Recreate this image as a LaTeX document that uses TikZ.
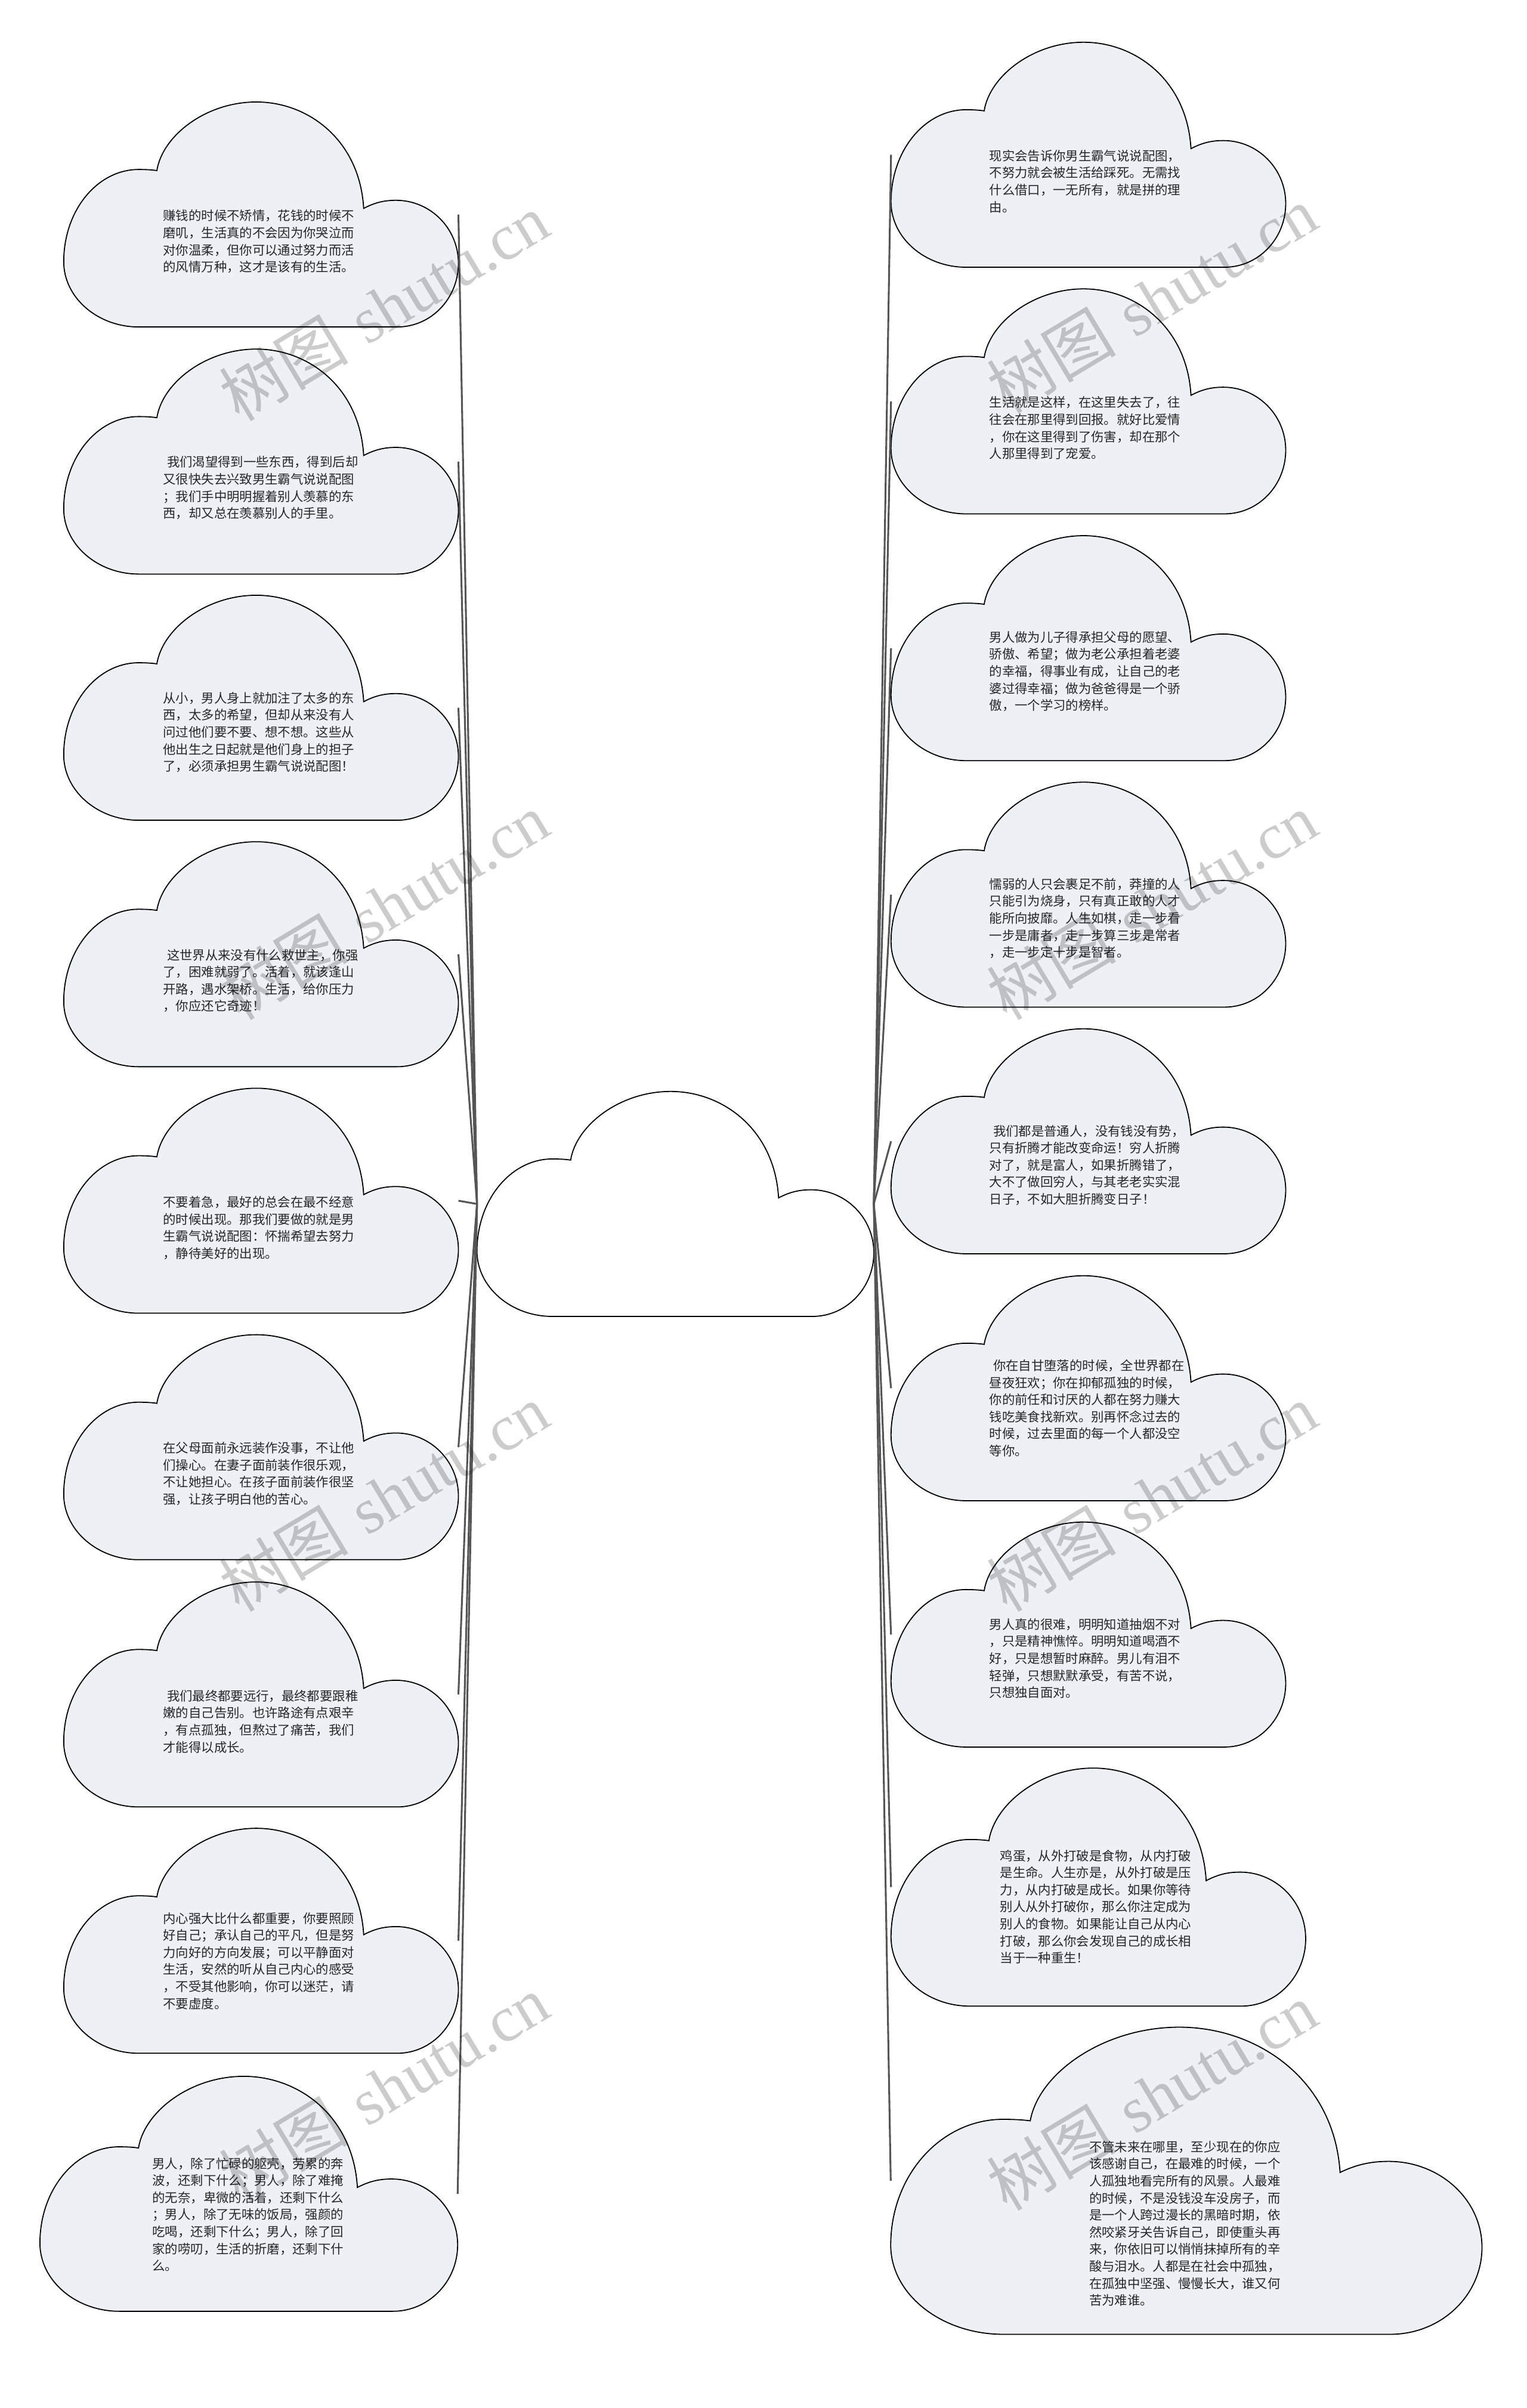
\documentclass[tikz,border=0pt]{standalone}
\usepackage{fontspec}
\newfontfamily\cjkfont{Noto Sans CJK SC}
\newfontfamily\markfont{Liberation Serif}
\definecolor{notefill}{RGB}{237,241,245}
\definecolor{linkgray}{RGB}{85,85,85}

\begin{document}
\begin{tikzpicture}[x=0.25mm,y=-0.25mm]
\tikzset{
  cloudshape/.pic={
    \path[pic actions] (0.19,1)
      .. controls (0.086,1) and (0,0.87) .. (0,0.71)
      .. controls (0,0.48) and (0.086,0.30) .. (0.19,0.30)
      .. controls (0.21,0.30) and (0.225,0.302) .. (0.236,0.305)
      .. controls (0.25,0.15) and (0.36,0) .. (0.488,0)
      .. controls (0.62,0) and (0.75,0.17) .. (0.760,0.473)
      .. controls (0.79,0.445) and (0.815,0.437) .. (0.842,0.437)
      .. controls (0.929,0.437) and (1,0.562) .. (1,0.717)
      .. controls (1,0.873) and (0.931,1) .. (0.845,1)
      -- cycle;
    \coordinate (-w) at (0,0.5);
    \coordinate (-e) at (1,0.5);
  },
  notecloud/.style={draw=black,line width=0.5pt,fill=notefill},
  rootcloud/.style={draw=black,line width=0.5pt,fill=white},
  notetext/.style={anchor=west,inner sep=0pt,align=left,text=black!85,
    font=\cjkfont\fontsize{5.9pt}{7.9pt}\selectfont},
  link/.style={draw=linkgray,line width=0.85pt},
  watermark/.style={rotate=31,inner sep=0pt,text=black,opacity=0.2,
    font=\fontsize{30pt}{30pt}\selectfont}
}
\fill[white] (0,0) rectangle (994,1568);
\useasboundingbox (0,0) rectangle (994,1568);

% clouds
\pic[rootcloud,xscale=258.4,yscale=146.5] (n_Root) at (310.60,710.70) {cloudshape};

\pic[notecloud,xscale=257,yscale=146.5] (n_L1) at (41.50,66.40) {cloudshape};
\pic[notecloud,xscale=257,yscale=146.5] (n_L2) at (41.50,227.30) {cloudshape};
\pic[notecloud,xscale=257,yscale=146.5] (n_L3) at (41.50,387.60) {cloudshape};
\pic[notecloud,xscale=257,yscale=146.5] (n_L4) at (41.50,548.10) {cloudshape};
\pic[notecloud,xscale=257,yscale=146.5] (n_L5) at (41.50,708.60) {cloudshape};
\pic[notecloud,xscale=257,yscale=146.5] (n_L6) at (41.50,869.10) {cloudshape};
\pic[notecloud,xscale=257,yscale=146.5] (n_L7) at (41.50,1030.10) {cloudshape};
\pic[notecloud,xscale=257,yscale=146.5] (n_L8) at (41.50,1190.50) {cloudshape};
\pic[notecloud,xscale=272,yscale=153] (n_L9) at (26.00,1352.00) {cloudshape};

\pic[notecloud,xscale=257,yscale=146.5] (n_R1) at (580.20,27.50) {cloudshape};
\pic[notecloud,xscale=257,yscale=146.5] (n_R2) at (580.20,188.10) {cloudshape};
\pic[notecloud,xscale=257,yscale=146.5] (n_R3) at (580.20,348.80) {cloudshape};
\pic[notecloud,xscale=257,yscale=146.5] (n_R4) at (580.20,509.30) {cloudshape};
\pic[notecloud,xscale=257,yscale=146.5] (n_R5) at (580.20,669.90) {cloudshape};
\pic[notecloud,xscale=257,yscale=146.5] (n_R6) at (580.20,830.70) {cloudshape};
\pic[notecloud,xscale=257,yscale=146.5] (n_R7) at (580.20,991.10) {cloudshape};
\pic[notecloud,xscale=270,yscale=155] (n_R8) at (580.20,1151.30) {cloudshape};
\pic[notecloud,xscale=385,yscale=200] (n_R9) at (580.00,1320.00) {cloudshape};

% links
\draw[link] (n_Root-w) -- (n_L1-e);
\draw[link] (n_Root-w) -- (n_L2-e);
\draw[link] (n_Root-w) -- (n_L3-e);
\draw[link] (n_Root-w) -- (n_L4-e);
\draw[link] (n_Root-w) -- (n_L5-e);
\draw[link] (n_Root-w) -- (n_L6-e);
\draw[link] (n_Root-w) -- (n_L7-e);
\draw[link] (n_Root-w) -- (n_L8-e);
\draw[link] (n_Root-w) -- (n_L9-e);
\draw[link] (n_Root-e) -- (n_R1-w);
\draw[link] (n_Root-e) -- (n_R2-w);
\draw[link] (n_Root-e) -- (n_R3-w);
\draw[link] (n_Root-e) -- (n_R4-w);
\draw[link] (n_Root-e) -- (n_R5-w);
\draw[link] (n_Root-e) -- (n_R6-w);
\draw[link] (n_Root-e) -- (n_R7-w);
\draw[link] (n_Root-e) -- (n_R8-w);
\draw[link] (n_Root-e) -- (n_R9-w);

% texts
\node[notetext] (t_L1) at (106.00,157.30) {赚钱的时候不矫情，花钱的时候不\\磨叽，生活真的不会因为你哭泣而\\对你温柔，但你可以通过努力而活\\的风情万种，这才是该有的生活。};
\node[notetext] (t_L2) at (106.00,317.70) {\hspace*{0.3em}我们渴望得到一些东西，得到后却\\又很快失去兴致男生霸气说说配图\\；我们手中明明握着别人羡慕的东\\西，却又总在羡慕别人的手里。};
\node[notetext] (t_L3) at (106.00,476.80) {从小，男人身上就加注了太多的东\\西，太多的希望，但却从来没有人\\问过他们要不要、想不想。这些从\\他出生之日起就是他们身上的担子\\了，必须承担男生霸气说说配图！};
\node[notetext] (t_L4) at (106.00,638.60) {\hspace*{0.3em}这世界从来没有什么救世主，你强\\了，困难就弱了。活着，就该逢山\\开路，遇水架桥。生活，给你压力\\，你应还它奇迹！};
\node[notetext] (t_L5) at (106.00,799.50) {不要着急，最好的总会在最不经意\\的时候出现。那我们要做的就是男\\生霸气说说配图：怀揣希望去努力\\，静待美好的出现。};
\node[notetext] (t_L6) at (106.00,959.60) {在父母面前永远装作没事，不让他\\们操心。在妻子面前装作很乐观，\\不让她担心。在孩子面前装作很坚\\强，让孩子明白他的苦心。};
\node[notetext] (t_L7) at (106.00,1121.00) {\hspace*{0.3em}我们最终都要远行，最终都要跟稚\\嫩的自己告别。也许路途有点艰辛\\，有点孤独，但熬过了痛苦，我们\\才能得以成长。};
\node[notetext] (t_L8) at (106.00,1276.90) {内心强大比什么都重要，你要照顾\\好自己；承认自己的平凡，但是努\\力向好的方向发展；可以平静面对\\生活，安然的听从自己内心的感受\\，不受其他影响，你可以迷茫，请\\不要虚度。};
\node[notetext] (t_L9) at (99.00,1442.00) {男人，除了忙碌的躯壳，劳累的奔\\波，还剩下什么；男人，除了难掩\\的无奈，卑微的活着，还剩下什么\\；男人，除了无味的饭局，强颜的\\吃喝，还剩下什么；男人，除了回\\家的唠叨，生活的折磨，还剩下什\\么。};

\node[notetext] (t_R1) at (644.00,118.10) {现实会告诉你男生霸气说说配图，\\不努力就会被生活给踩死。无需找\\什么借口，一无所有，就是拼的理\\由。};
\node[notetext] (t_R2) at (644.00,278.70) {生活就是这样，在这里失去了，往\\往会在那里得到回报。就好比爱情\\，你在这里得到了伤害，却在那个\\人那里得到了宠爱。};
\node[notetext] (t_R3) at (644.00,437.20) {男人做为儿子得承担父母的愿望、\\骄傲、希望；做为老公承担着老婆\\的幸福，得事业有成，让自己的老\\婆过得幸福；做为爸爸得是一个骄\\傲，一个学习的榜样。};
\node[notetext] (t_R4) at (644.00,598.00) {懦弱的人只会裹足不前，莽撞的人\\只能引为烧身，只有真正敢的人才\\能所向披靡。人生如棋，走一步看\\一步是庸者，走一步算三步是常者\\，走一步定十步是智者。};
\node[notetext] (t_R5) at (644.00,758.70) {\hspace*{0.3em}我们都是普通人，没有钱没有势，\\只有折腾才能改变命运！穷人折腾\\对了，就是富人，如果折腾错了，\\大不了做回穷人，与其老老实实混\\日子，不如大胆折腾变日子！};
\node[notetext] (t_R6) at (644.00,916.90) {\hspace*{0.3em}你在自甘堕落的时候，全世界都在\\昼夜狂欢；你在抑郁孤独的时候，\\你的前任和讨厌的人都在努力赚大\\钱吃美食找新欢。别再怀念过去的\\时候，过去里面的每一个人都没空\\等你。};
\node[notetext] (t_R7) at (644.00,1079.90) {男人真的很难，明明知道抽烟不对\\，只是精神憔悴。明明知道喝酒不\\好，只是想暂时麻醉。男儿有泪不\\轻弹，只想默默承受，有苦不说，\\只想独自面对。};
\node[notetext] (t_R8) at (651.00,1241.60) {鸡蛋，从外打破是食物，从内打破\\是生命。人生亦是，从外打破是压\\力，从内打破是成长。如果你等待\\别人从外打破你，那么你注定成为\\别人的食物。如果能让自己从内心\\打破，那么你会发现自己的成长相\\当于一种重生！};
\node[notetext] (t_R9) at (709.00,1447.90) {不管未来在哪里，至少现在的你应\\该感谢自己，在最难的时候，一个\\人孤独地看完所有的风景。人最难\\的时候，不是没钱没车没房子，而\\是一个人跨过漫长的黑暗时期，依\\然咬紧牙关告诉自己，即使重头再\\来，你依旧可以悄悄抹掉所有的辛\\酸与泪水。人都是在社会中孤独，\\在孤独中坚强、慢慢长大，谁又何\\苦为难谁。};

% watermark
\node[watermark] (w_1) at (250.00,200.00) {{\cjkfont 树图} {\markfont shutu.cn}};
\node[watermark] (w_2) at (750.00,195.00) {{\cjkfont 树图} {\markfont shutu.cn}};
\node[watermark] (w_3) at (250.00,590.00) {{\cjkfont 树图} {\markfont shutu.cn}};
\node[watermark] (w_4) at (750.00,590.00) {{\cjkfont 树图} {\markfont shutu.cn}};
\node[watermark] (w_5) at (250.00,975.00) {{\cjkfont 树图} {\markfont shutu.cn}};
\node[watermark] (w_6) at (750.00,975.00) {{\cjkfont 树图} {\markfont shutu.cn}};
\node[watermark] (w_7) at (250.00,1360.00) {{\cjkfont 树图} {\markfont shutu.cn}};
\node[watermark] (w_8) at (750.00,1365.00) {{\cjkfont 树图} {\markfont shutu.cn}};
\end{tikzpicture}
\end{document}
